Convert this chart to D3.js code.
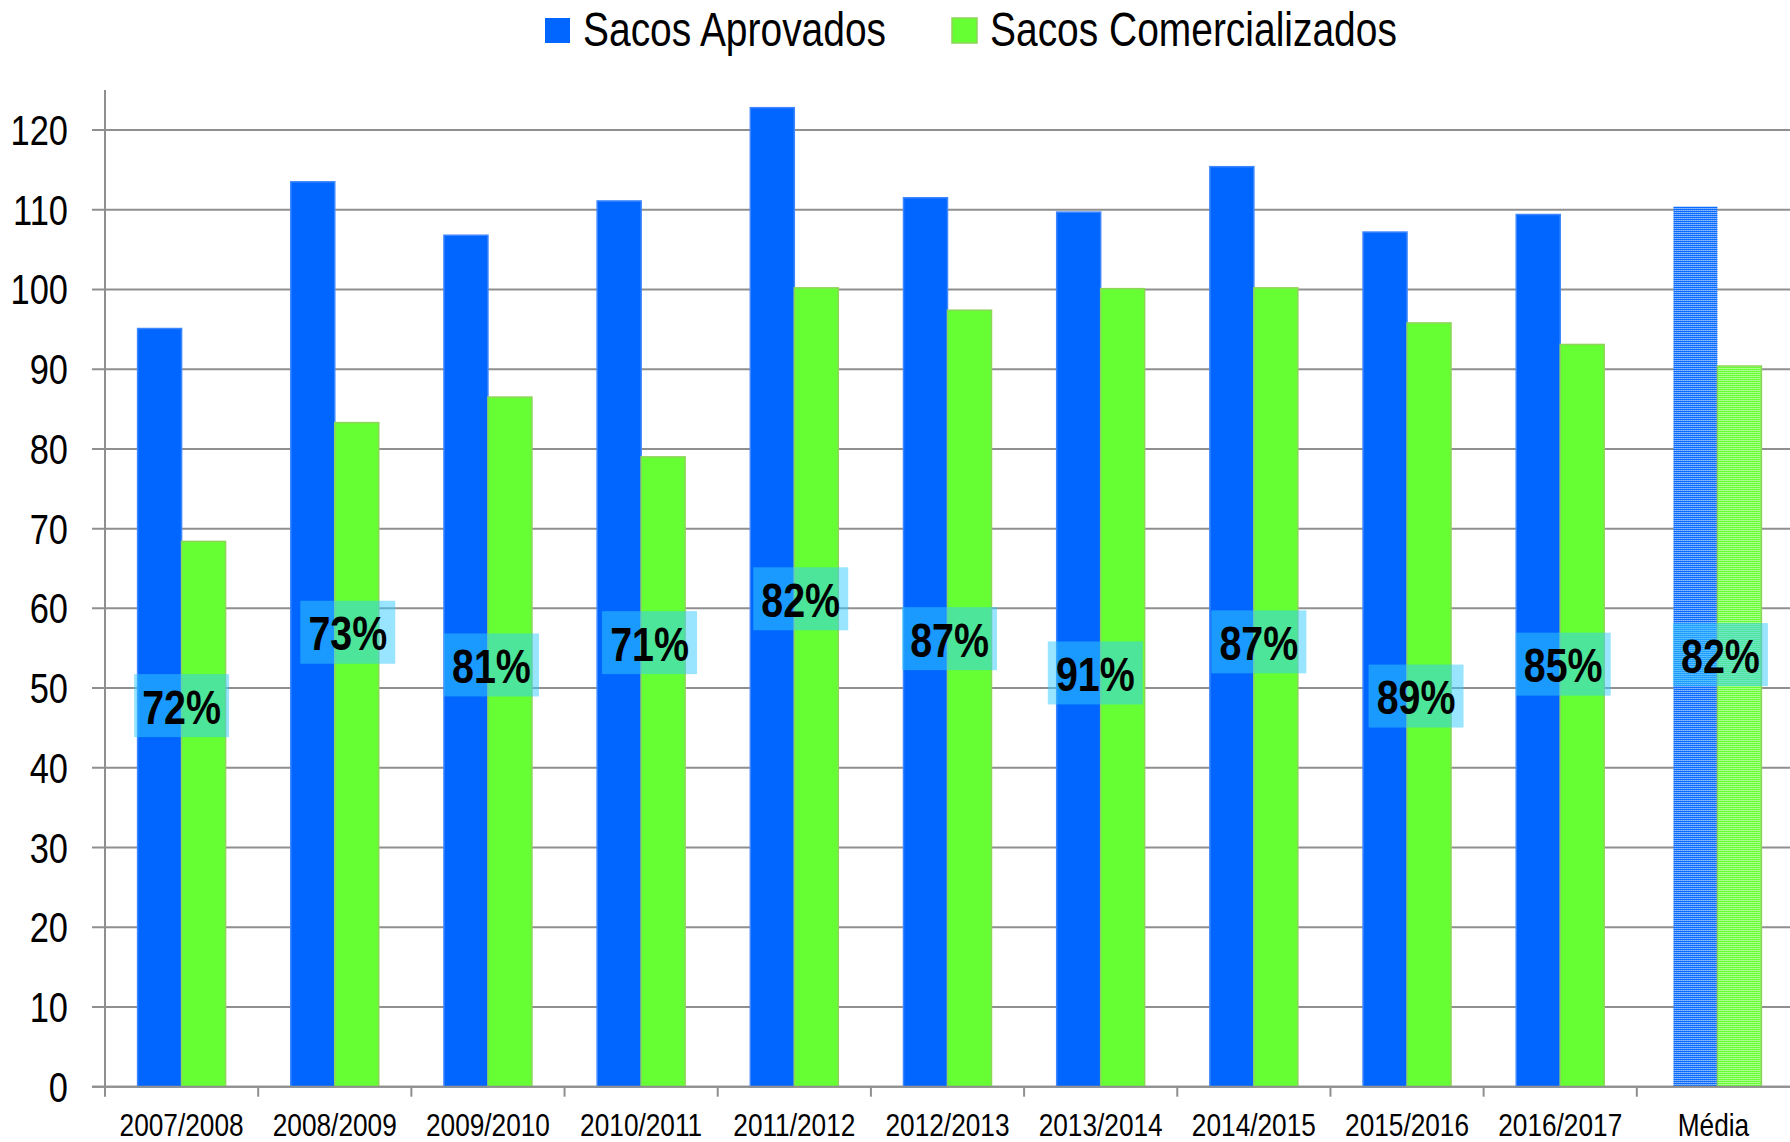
<!DOCTYPE html>
<html><head><meta charset="utf-8">
<script src="https://cdn.jsdelivr.net/npm/d3@7"></script>
<style>html,body{margin:0;padding:0;background:#fff;}svg{display:block;}</style>
</head><body>
<svg id="chart" width="1790" height="1142"></svg>
<script>
const categories = ["2007/2008","2008/2009","2009/2010","2010/2011","2011/2012","2012/2013","2013/2014","2014/2015","2015/2016","2016/2017","Média"];
const seriesNames = ["Sacos Aprovados","Sacos Comercializados"];
const aprovados = [95.1,113.5,106.8,111.1,122.8,111.5,109.7,115.4,107.2,109.4,110.4];
const comercializados = [68.4,83.3,86.5,79.0,100.2,97.4,100.1,100.2,95.8,93.1,90.4];
const percentLabels = ["72%","73%","81%","71%","82%","87%","91%","87%","89%","85%","82%"];
const labelLevel = [47.8,57.0,52.9,55.7,61.2,56.2,51.9,55.8,49.0,53.0,54.2];
const labelNudge = [0,13,3.5,8.4,6.4,2,-5.4,5,9,3,7];
const yTicks = [0,10,20,30,40,50,60,70,80,90,100,110,120];

function hasFont(name){
  const c=document.createElement('canvas').getContext('2d');
  const s='Sacos Aprovados 2007/2008';
  c.font='40px monospace'; const a=c.measureText(s).width;
  c.font='40px "'+name+'", monospace'; const b=c.measureText(s).width;
  return Math.abs(a-b)>0.5;
}
const narrow = hasFont('Liberation Sans Narrow');
const FAM = narrow ? '"Liberation Sans Narrow", "Arial Narrow", sans-serif' : '"Liberation Sans", Arial, sans-serif';
const SX = narrow ? 1 : 0.82;
function place(sel, x, y){ sel.attr('transform', `translate(${x},${y}) scale(${SX},1)`).attr('x',0).attr('y',0); return sel; }

const svg = d3.select('#chart');
const L=105, R=1790, T=90, B=1086.7;
const y = d3.scaleLinear().domain([0,120]).range([B,130]);
const x0 = d3.scaleBand().domain(categories).range([L,R]).paddingInner(0.4256).paddingOuter(0.2128);
const x1 = d3.scaleBand().domain(seriesNames).range([0,x0.bandwidth()]);
const step = x0.step();
const colors = {"Sacos Aprovados":"#0066ff","Sacos Comercializados":"#66ff33"};
const avgShift = 4;

// patterns for Média
const defs = svg.append('defs');
const pb = defs.append('pattern').attr('id','patBlue').attr('width',2).attr('height',2).attr('patternUnits','userSpaceOnUse');
pb.append('rect').attr('width',2).attr('height',2).attr('fill','#0a6cff');
pb.append('rect').attr('x',0).attr('y',0).attr('width',1).attr('height',1).attr('fill','#e8f0ff');
const pg = defs.append('pattern').attr('id','patGreen').attr('width',2).attr('height',2).attr('patternUnits','userSpaceOnUse');
pg.append('rect').attr('width',2).attr('height',2).attr('fill','#66ff33');
pg.append('rect').attr('x',0).attr('y',0).attr('width',1).attr('height',1).attr('fill','#f0ffe8');

// gridlines
svg.append('g').selectAll('line').data(yTicks).join('line')
  .attr('x1',92).attr('x2',R).attr('y1',d=>y(d)).attr('y2',d=>y(d))
  .attr('stroke','#8f8f8f').attr('stroke-width',2);

// y tick labels
svg.append('g').selectAll('text').data(yTicks).join('text')
  .each(function(d){ place(d3.select(this), 68, y(d)+15); })
  .attr('text-anchor','end').attr('font-family',FAM).attr('font-size',42).attr('fill','#000')
  .text(d=>d);

// bars
const data = categories.map((c,i)=>({cat:c, vals:[{s:seriesNames[0],v:aprovados[i]},{s:seriesNames[1],v:comercializados[i]}], avg:c==='Média'}));
const groups = svg.append('g').selectAll('g').data(data).join('g')
  .attr('transform',d=>`translate(${x0(d.cat)+(d.avg?avgShift:0)},0)`);
groups.selectAll('rect').data(d=>d.vals.map(v=>({...v,avg:d.avg}))).join('rect')
  .attr('x',d=>x1(d.s)).attr('width',x1.bandwidth())
  .attr('y',d=>y(d.v)).attr('height',d=>y(0)-y(d.v))
  .attr('fill',d=> d.avg ? (d.s===seriesNames[0]?'url(#patBlue)':'url(#patGreen)') : colors[d.s])
  .attr('stroke',d=> d.s===seriesNames[0] ? (d.avg?'none':'#3d86ff') : '#8fd45a')
  .attr('stroke-width',1.5);

// axes lines
svg.append('line').attr('x1',L).attr('x2',L).attr('y1',T).attr('y2',B+10).attr('stroke','#8f8f8f').attr('stroke-width',2);
svg.append('line').attr('x1',92).attr('x2',R).attr('y1',B).attr('y2',B).attr('stroke','#8f8f8f').attr('stroke-width',2);
svg.append('g').selectAll('line').data(d3.range(1,categories.length)).join('line')
  .attr('x1',i=>L+i*step).attr('x2',i=>L+i*step).attr('y1',B).attr('y2',B+10)
  .attr('stroke','#8f8f8f').attr('stroke-width',2);

// x labels
svg.append('g').selectAll('text').data(categories).join('text')
  .each(function(d){ place(d3.select(this), x0(d)+x0.bandwidth()/2, 1136); })
  .attr('text-anchor','middle').attr('font-family',FAM).attr('font-size',32).attr('fill','#000')
  .text(d=>d);

// percentage labels
const lab = svg.append('g').selectAll('g').data(categories).join('g')
  .attr('transform',(d,i)=>`translate(${x0(d)+x0.bandwidth()/2+labelNudge[i]},${y(labelLevel[i])})`);
lab.append('rect').attr('x',-47.5).attr('y',-31.5).attr('width',95).attr('height',63)
  .attr('fill','rgba(51,204,255,0.5)');
lab.append('text').each(function(){ place(d3.select(this),0,18); })
  .attr('text-anchor','middle').attr('font-family',FAM).attr('font-weight','bold').attr('font-size',48).attr('fill','#000')
  .text((d,i)=>percentLabels[i]);

// legend
const legX = [545, 952];
const leg = svg.append('g').selectAll('g').data(seriesNames).join('g');
leg.append('rect').attr('x',(d,i)=>legX[i]).attr('y',18).attr('width',25).attr('height',25)
  .attr('fill',d=>colors[d]).attr('stroke',(d,i)=>i?'#8fd45a':'none').attr('stroke-width',1.5);
leg.append('text').each(function(d,i){ place(d3.select(this), legX[i]+38, 46); })
  .attr('font-family',FAM).attr('font-size',47.5).attr('fill','#000').text(d=>d);
</script>
</body></html>
